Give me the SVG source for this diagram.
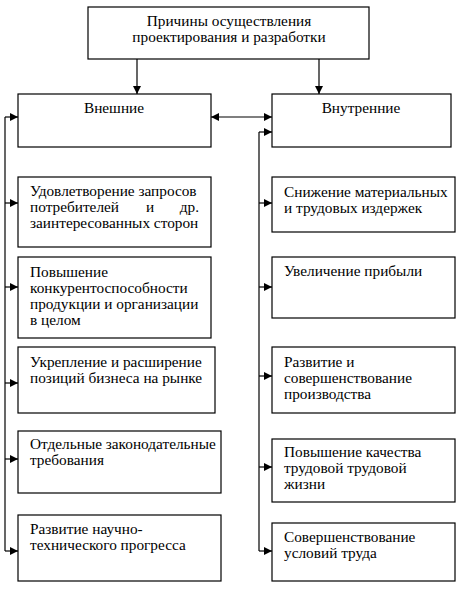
<svg xmlns="http://www.w3.org/2000/svg" width="470" height="593" viewBox="0 0 470 593">
<defs>
<marker id="ah" markerUnits="userSpaceOnUse" markerWidth="9" markerHeight="9" refX="8" refY="4" orient="auto-start-reverse">
<path d="M0,0 L8,4 L0,8 z" fill="#000"/>
</marker>
<style>
rect{fill:#fff;stroke:#000;stroke-width:1.2}
text{font-family:"Liberation Serif","Times New Roman",serif;font-size:15.3px;fill:#000}
.c{text-anchor:middle}
.e{text-anchor:end}
#connectors path{fill:none;stroke:#000;stroke-width:1.2}
.a{marker-end:url(#ah)}
</style>
</defs>
<rect x="0" y="0" width="470" height="593" style="fill:#fff;stroke:none"/>
<g id="connectors">
<path class="a" d="M137,59 V94"/>
<path class="a" d="M319,59 V94"/>
<path d="M211,117 H272" style="marker-start:url(#ah);marker-end:url(#ah)"/>
<path d="M5,551 V117"/>
<path class="a" d="M5,117 H18"/>
<path class="a" d="M5,203 H18"/>
<path class="a" d="M5,287 H18"/>
<path class="a" d="M5,383 H18"/>
<path class="a" d="M5,459 H18"/>
<path class="a" d="M5,551 H18"/>
<path d="M259,551 V132"/>
<path class="a" d="M259,132 H272"/>
<path class="a" d="M259,203 H272"/>
<path class="a" d="M259,287 H272"/>
<path class="a" d="M259,376 H272"/>
<path class="a" d="M259,467 H272"/>
<path class="a" d="M259,551 H272"/>
</g>
<g id="root">
<rect x="88" y="7" width="281" height="52"/>
<text class="c" x="229" y="26">Причины осуществления</text>
<text class="c" x="229" y="42">проектирования и разработки</text>
</g>
<g id="external">
<rect x="18" y="94" width="193" height="53"/>
<text class="c" x="114" y="113">Внешние</text>
</g>
<g id="internal">
<rect x="272" y="94" width="179" height="53"/>
<text class="c" x="361" y="113">Внутренние</text>
</g>
<g id="ext1">
<rect x="18" y="177" width="193" height="70"/>
<text x="30" y="196">Удовлетворение запросов</text>
<text x="30" y="212">потребителей</text>
<text class="c" x="150" y="212">и</text>
<text class="e" x="199" y="212">др.</text>
<text x="30" y="228">заинтересованных сторон</text>
</g>
<g id="ext2">
<rect x="18" y="257" width="193" height="81"/>
<text x="30" y="277">Повышение</text>
<text x="30" y="293">конкурентоспособности</text>
<text x="30" y="309">продукции и организации</text>
<text x="30" y="325">в целом</text>
</g>
<g id="ext3">
<rect x="18" y="347" width="197" height="66"/>
<text x="30" y="367">Укрепление и расширение</text>
<text x="30" y="383">позиций бизнеса на рынке</text>
</g>
<g id="ext4">
<rect x="18" y="431" width="203" height="62"/>
<text x="30" y="449">Отдельные законодательные</text>
<text x="30" y="465">требования</text>
</g>
<g id="ext5">
<rect x="18" y="515" width="203" height="66"/>
<text x="30" y="534">Развитие научно-</text>
<text x="30" y="550">технического прогресса</text>
</g>
<g id="int1">
<rect x="272" y="177" width="183" height="55"/>
<text x="284" y="197">Снижение материальных</text>
<text x="284" y="213">и трудовых издержек</text>
</g>
<g id="int2">
<rect x="272" y="257" width="183" height="61"/>
<text x="284" y="276">Увеличение прибыли</text>
</g>
<g id="int3">
<rect x="272" y="347" width="183" height="66"/>
<text x="284" y="367">Развитие и</text>
<text x="284" y="383">совершенствование</text>
<text x="284" y="399">производства</text>
</g>
<g id="int4">
<rect x="272" y="439" width="183" height="63"/>
<text x="284" y="457">Повышение качества</text>
<text x="284" y="473">трудовой трудовой</text>
<text x="284" y="489">жизни</text>
</g>
<g id="int5">
<rect x="272" y="523" width="183" height="58"/>
<text x="284" y="542">Совершенствование</text>
<text x="284" y="558">условий труда</text>
</g>
</svg>
